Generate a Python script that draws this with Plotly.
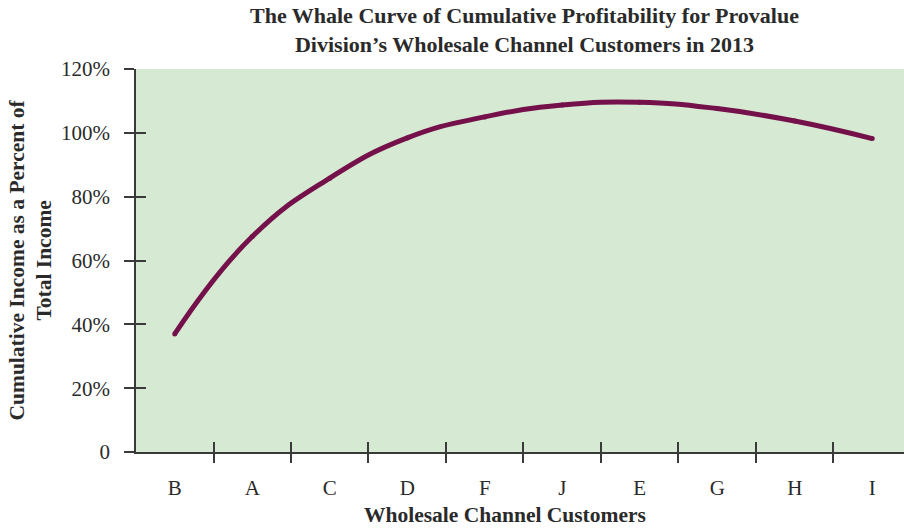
import plotly.graph_objects as go

# Customers ranked by profitability and cumulative income as % of total
customers = ["B", "A", "C", "D", "F", "J", "E", "G", "H", "I"]
cumulative_pct = [37.0, 67.5, 85.8, 98.4, 105.0, 108.7, 109.6, 107.6, 103.7, 98.2]
y_ticks = [0, 20, 40, 60, 80, 100, 120]
y_tick_text = ["0", "20%", "40%", "60%", "80%", "100%", "120%"]

positions = list(range(len(customers)))
boundaries = [i + 0.5 for i in range(len(customers) - 1)]

SERIF = "Liberation Serif"
TXT = "#2a2a2a"
AX = "#3a3a3a"
CURVE = "#74114b"
BG = "#d6e9d3"
x_range = [-0.5, 9.41]

fig = go.Figure()
fig.add_trace(go.Scatter(
    x=positions, y=cumulative_pct, mode="lines+markers",
    line=dict(color=CURVE, width=5, shape="spline", smoothing=1.3),
    marker=dict(color=CURVE, size=5),
    showlegend=False, hoverinfo="skip",
))
# helper traces so the overlay axes (crossing tick marks) are rendered
fig.add_trace(go.Scatter(x=[], y=[], xaxis="x2", yaxis="y2", showlegend=False, hoverinfo="skip"))
fig.add_trace(go.Scatter(x=[], y=[], xaxis="x3", yaxis="y2", showlegend=False, hoverinfo="skip"))

fig.update_layout(
    width=904, height=529,
    margin=dict(l=136, r=0, t=69, b=77),
    paper_bgcolor="white", plot_bgcolor=BG,
    font=dict(family=SERIF, color=TXT, size=21),
    xaxis=dict(
        range=x_range, tickmode="array", tickvals=positions, ticktext=customers,
        ticks="", showgrid=False, zeroline=False,
        showline=True, linecolor=AX, linewidth=1.5,
        tickfont=dict(family=SERIF, size=21, color=TXT),
        ticklabelstandoff=16,
    ),
    xaxis2=dict(
        range=x_range, overlaying="x", tickmode="array", tickvals=boundaries,
        ticks="outside", ticklen=10, tickwidth=1.5, tickcolor=AX,
        showticklabels=False, showgrid=False, zeroline=False, showline=False,
    ),
    xaxis3=dict(
        range=x_range, overlaying="x", tickmode="array", tickvals=boundaries,
        ticks="inside", ticklen=10, tickwidth=1.5, tickcolor=AX,
        showticklabels=False, showgrid=False, zeroline=False, showline=False,
    ),
    yaxis=dict(
        range=[0, 120], tickmode="array", tickvals=y_ticks, ticktext=y_tick_text,
        ticks="outside", ticklen=10, tickwidth=1.5, tickcolor=AX,
        showgrid=False, zeroline=False,
        showline=True, linecolor=AX, linewidth=1.5,
        tickfont=dict(family=SERIF, size=21, color=TXT),
        ticklabelstandoff=10,
    ),
    yaxis2=dict(
        range=[0, 120], overlaying="y", tickmode="array", tickvals=y_ticks,
        ticks="inside", ticklen=10, tickwidth=1.5, tickcolor=AX,
        showticklabels=False, showgrid=False, zeroline=False, showline=False,
    ),
    annotations=[
        dict(
            text="The Whale Curve of Cumulative Profitability for Provalue<br>Division\u2019s Wholesale Channel Customers in 2013",
            xref="paper", yref="paper", x=0, y=1, xshift=388, yshift=39,
            xanchor="center", yanchor="middle", showarrow=False, align="center",
            font=dict(family=SERIF, size=22, color=TXT, weight="bold"),
        ),
        dict(
            text="Cumulative Income as a Percent of<br>Total Income",
            xref="paper", yref="paper", x=0, y=0.5, xshift=-106,
            xanchor="center", yanchor="middle", textangle=-90, showarrow=False,
            font=dict(family=SERIF, size=21.5, color=TXT, weight="bold"),
        ),
        dict(
            text="Wholesale Channel Customers",
            xref="paper", yref="paper", x=0, y=0, xshift=369, yshift=-63,
            xanchor="center", yanchor="middle", showarrow=False,
            font=dict(family=SERIF, size=21.5, color=TXT, weight="bold"),
        ),
    ],
)

fig.write_html("out.html")
